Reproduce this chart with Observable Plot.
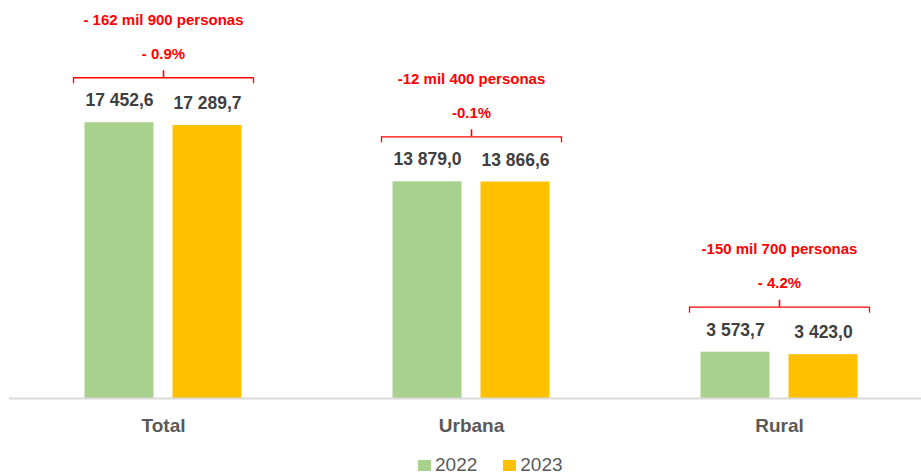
<!DOCTYPE html>
<html>
<head>
<meta charset="utf-8">
<script src="https://cdn.jsdelivr.net/npm/d3@7"></script>
<script src="https://cdn.jsdelivr.net/npm/@observablehq/plot@0.6"></script>
<style>
  body { margin: 0; background: #fff; font-family: "Liberation Sans", Arial, sans-serif; }
  #wrap { position: relative; width: 921px; height: 474px; overflow: hidden; }
  #legend { position: absolute; left: 418px; top: 454px; display: flex; align-items: center; font-size: 19px; color: #595959; }
  .sw { display: inline-block; width: 13px; height: 11px; margin-right: 4px; }
  .item { display: flex; align-items: center; }
</style>
</head>
<body>
<div id="wrap">
  <div id="chart"></div>
  <div id="legend"></div>
</div>
<script>
// ---- data ----
const categories = ["Total", "Urbana", "Rural"];
const years = ["2022", "2023"];
const values2022 = [17452.6, 13879.0, 3573.7];
const values2023 = [17289.7, 13866.6, 3423.0];
const valueLabels2022 = ["17 452,6", "13 879,0", "3 573,7"];
const valueLabels2023 = ["17 289,7", "13 866,6", "3 423,0"];
const changeLabels = ["- 162 mil 900 personas", "-12 mil 400 personas", "-150 mil 700 personas"];
const pctLabels = ["- 0.9%", "-0.1%", "- 4.2%"];
const yFloor = 773;

// ---- style ----
const colors = {"2022": "#A9D18E", "2023": "#FFC000"};
const red = "#FF0000";

const rows2022 = categories.map((c, i) => ({category: c, value: values2022[i], label: valueLabels2022[i]}));
const rows2023 = categories.map((c, i) => ({category: c, value: values2023[i], label: valueLabels2023[i]}));
const ann = categories.map((c, i) => ({
  category: c,
  top: Math.max(values2022[i], values2023[i]),
  change: changeLabels[i],
  pct: pctLabels[i]
}));

const bracketDy = -45;
const font = "Liberation Sans, Arial, sans-serif";

const chart = Plot.plot({
  width: 921,
  height: 448,
  marginLeft: 9,
  marginRight: 0,
  marginTop: 14,
  marginBottom: 50,
  style: {fontFamily: font, background: "#fff", overflow: "visible"},
  x: {domain: categories, range: [9, 933], padding: 0, label: null},
  y: {domain: [yFloor, 24000], clamp: true, axis: null},
  marks: [
    Plot.barY(rows2022, {x: "category", y1: yFloor, y2: "value", fill: colors["2022"], insetLeft: 75.5, insetRight: 163.5}),
    Plot.barY(rows2023, {x: "category", y1: yFloor, y2: "value", fill: colors["2023"], insetLeft: 163.5, insetRight: 75.5}),
    Plot.ruleY([yFloor], {stroke: "#D9D9D9", strokeWidth: 2}),
    Plot.text(rows2022, {x: "category", y: "value", text: "label", dx: -44, dy: -22, fontSize: 17.5, fontWeight: "bold", fill: "#404040"}),
    Plot.text(rows2023, {x: "category", y: "value", text: "label", dx: 44, dy: -22, fontSize: 17.5, fontWeight: "bold", fill: "#404040"}),
    // bracket
    Plot.tickY(ann, {x: "category", y: "top", dy: bracketDy, insetLeft: 64, insetRight: 64, stroke: red, strokeWidth: 1.3}),
    Plot.ruleX(ann, {x: "category", y1: "top", y2: "top", dx: -90, dy: bracketDy, insetTop: 6, insetBottom: 0, stroke: red, strokeWidth: 1.3}),
    Plot.ruleX(ann, {x: "category", y1: "top", y2: "top", dx: 90, dy: bracketDy, insetTop: 6, insetBottom: 0, stroke: red, strokeWidth: 1.3}),
    Plot.ruleX(ann, {x: "category", y1: "top", y2: "top", dy: bracketDy, insetTop: 0, insetBottom: 7, stroke: red, strokeWidth: 1.6}),
    Plot.text(ann, {x: "category", y: "top", text: "pct", dy: bracketDy - 24, fontSize: 15, fontWeight: "bold", fill: red}),
    Plot.text(ann, {x: "category", y: "top", text: "change", dy: bracketDy - 58, fontSize: 15, fontWeight: "bold", fill: red}),
    Plot.axisX({tickSize: 0, tickPadding: 20, fontSize: 19, fontWeight: "bold", fill: "#595959", label: null})
  ]
});
document.getElementById("chart").appendChild(chart);

const legend = document.getElementById("legend");
years.forEach((yr, i) => {
  const item = document.createElement("span");
  item.className = "item";
  if (i > 0) item.style.marginLeft = "26px";
  const sw = document.createElement("span");
  sw.className = "sw";
  sw.style.background = colors[yr];
  item.appendChild(sw);
  item.appendChild(document.createTextNode(yr));
  legend.appendChild(item);
});
</script>
</body>
</html>
